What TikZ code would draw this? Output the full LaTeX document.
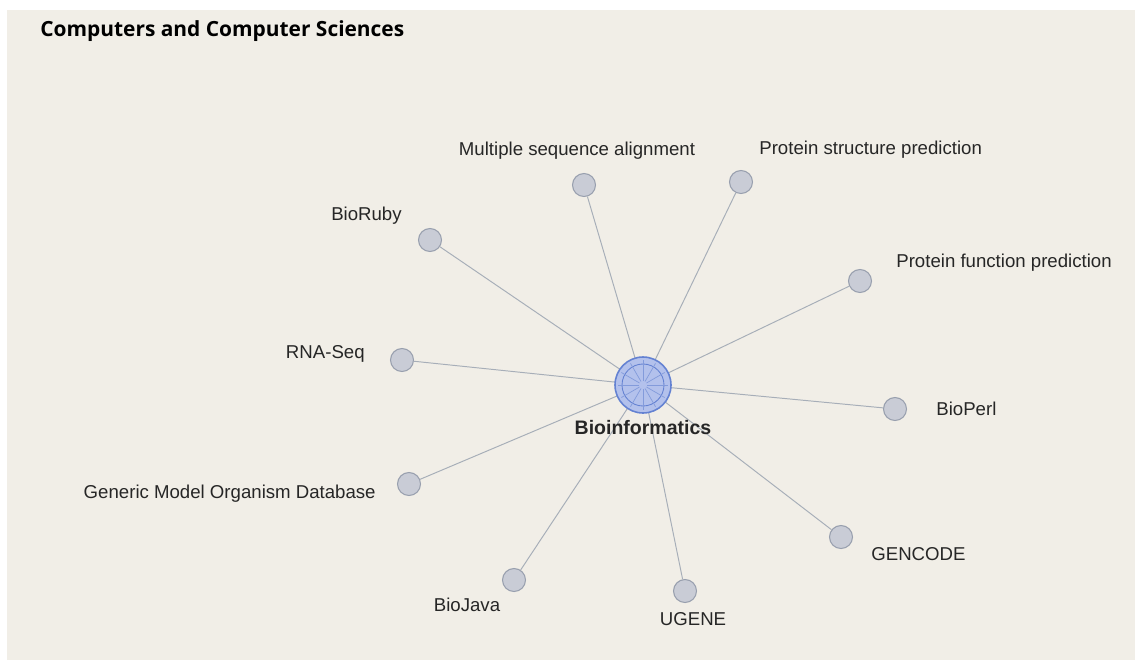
\documentclass[tikz,border=0pt]{standalone}
\usepackage{fontspec}
\setmainfont{Liberation Sans}
\newfontfamily\titlefont{Open Sans}
\usepackage{tikz}
\usetikzlibrary{backgrounds,calc}

\definecolor{paper}{HTML}{F1EEE7}
\definecolor{edgegray}{HTML}{A7AEB8}
\definecolor{leaffill}{HTML}{C9CCD6}
\definecolor{leafdraw}{HTML}{989FAE}
\definecolor{hubfill}{HTML}{B3C1EC}
\definecolor{hubdraw}{HTML}{6482D2}

\tikzset{
  leaf/.style={circle, fill=leaffill, draw=leafdraw, line width=0.6pt, minimum size=0.46cm, inner sep=0pt},
  hub/.style={circle, fill=hubfill, draw=hubdraw, line width=0.9pt, minimum size=1.12cm, inner sep=0pt},
  link/.style={draw=edgegray, line width=0.55pt},
  lbl/.style={font=\fontsize{10.6}{12}\selectfont, text=black!85, inner sep=0pt},
}

\begin{document}
\begin{tikzpicture}[x=0.02cm, y=-0.02cm]
\useasboundingbox (0,0) rectangle (1135,660);
\fill[white] (0,0) rectangle (1135,660);
\fill[paper] (7,10) rectangle (1135,660);

\node[anchor=west, font=\titlefont\bfseries\fontsize{11.9}{13}\selectfont, inner sep=0pt] (title) at (40,31) {Computers and Computer Sciences};

% hub
\coordinate (c) at (643,385);

% leaves
\node[leaf] (msa) at (584,185) {};
\node[leaf] (psp) at (741,182) {};
\node[leaf] (ruby) at (430,240) {};
\node[leaf] (pfp) at (860,281) {};
\node[leaf] (rna) at (402,360) {};
\node[leaf] (perl) at (895,409) {};
\node[leaf] (gmod) at (409,484) {};
\node[leaf] (java) at (514,580) {};
\node[leaf] (ugene) at (685,591) {};
\node[leaf] (gencode) at (841,537) {};

% connectors
\foreach \n in {msa,psp,ruby,pfp,rna,perl,gmod,java,ugene,gencode}
  \draw[link] (c) -- (\n);

\node[hub] (bio) at (c) {};
\draw[hubdraw, line width=0.5pt] (c) circle (0.42cm);
\foreach \a in {0,30,...,330}
  \draw[hubdraw!80, line width=0.4pt] ($(c)+(\a:0.08cm)$) -- ($(c)+(\a:0.5cm)$);

% labels
\node[lbl, anchor=center] (msal) at (577,151) {Multiple sequence alignment};
\node[lbl, anchor=west] (pspl) at (759,150) {Protein structure prediction};
\node[lbl, anchor=east] (rubyl) at (402,216) {BioRuby};
\node[lbl, anchor=west] (pfpl) at (896,263) {Protein function prediction};
\node[lbl, anchor=east] (rnal) at (365,354) {RNA-Seq};
\node[lbl, anchor=west] (perll) at (936,409) {BioPerl};
\node[lbl, anchor=east] (gmodl) at (376,494) {Generic Model Organism Database};
\node[lbl, anchor=center] (javal) at (467,605) {BioJava};
\node[lbl, anchor=center] (ugenel) at (693,619) {UGENE};
\node[lbl, anchor=west] (gencodel) at (871,554) {GENCODE};
\node[lbl, anchor=center, font=\bfseries\fontsize{11.1}{12}\selectfont] (biol) at (643,428) {Bioinformatics};
\end{tikzpicture}
\end{document}
